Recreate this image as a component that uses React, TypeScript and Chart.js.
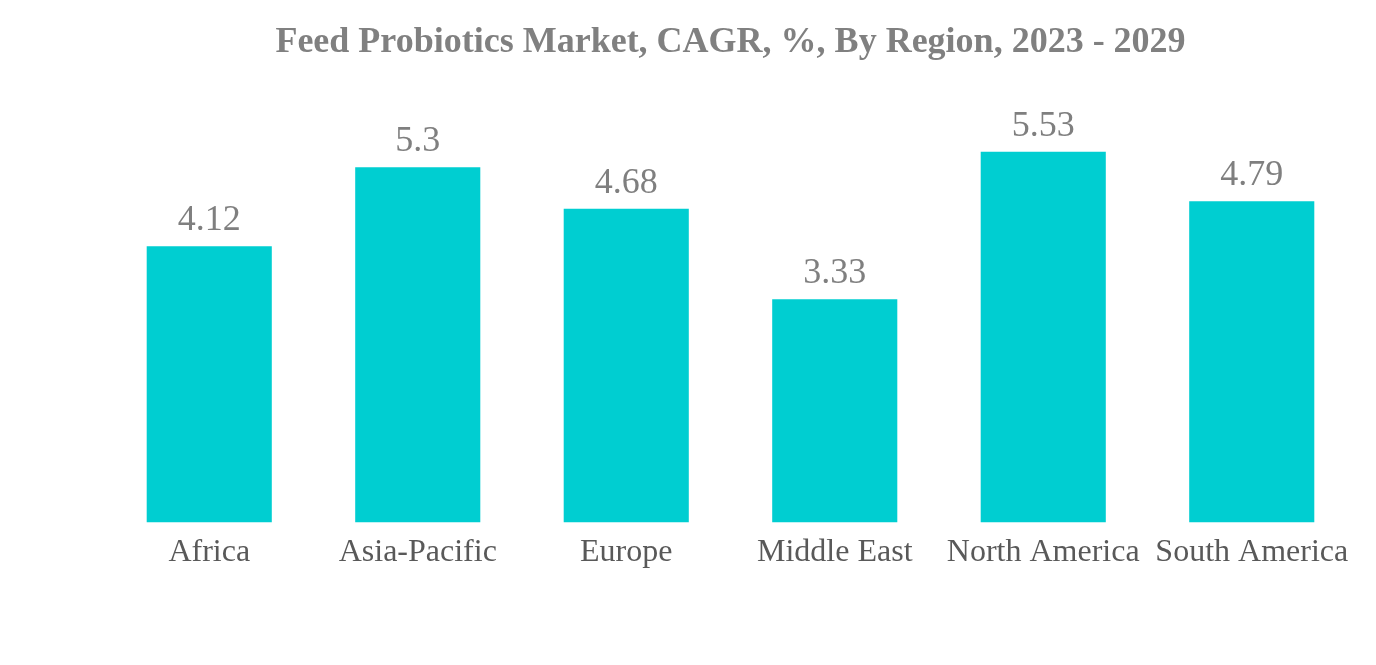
import React, { useEffect, useRef } from "react";
import { Chart, registerables } from "chart.js";

Chart.register(...registerables);

const categories = ["Africa", "Asia-Pacific", "Europe", "Middle East", "North America", "South America"];
const cagrValues = [4.12, 5.3, 4.68, 3.33, 5.53, 4.79];
const titleText = "Feed Probiotics Market, CAGR, %, By Region, 2023 - 2029";

const FONT = "'Liberation Serif', 'Times New Roman', serif";

const valueLabels = {
  id: "valueLabels",
  afterDatasetsDraw(chart: any) {
    const ctx = chart.ctx;
    const meta = chart.getDatasetMeta(0);
    ctx.save();
    ctx.font = `36px ${FONT}`;
    ctx.fillStyle = "#7f7f7f";
    ctx.textAlign = "center";
    ctx.textBaseline = "alphabetic";
    meta.data.forEach((bar: any, i: number) => {
      ctx.fillText(String(cagrValues[i]), bar.x, bar.y - 16);
    });
    ctx.restore();
  },
};

export default function App() {
  const ref = useRef<HTMLCanvasElement | null>(null);
  useEffect(() => {
    if (!ref.current) return;
    const chart = new Chart(ref.current, {
      type: "bar",
      data: {
        labels: categories,
        datasets: [
          {
            data: cagrValues,
            backgroundColor: "#00CED1",
            categoryPercentage: 0.6,
            barPercentage: 1,
          },
        ],
      },
      options: {
        animation: false,
        responsive: true,
        maintainAspectRatio: false,
        layout: { padding: { left: 105, right: 20, top: 0, bottom: 90 } },
        plugins: {
          legend: { display: false },
          tooltip: { enabled: false },
          title: {
            display: true,
            text: titleText,
            color: "#808080",
            font: { family: FONT, size: 36, weight: "bold" },
            padding: { top: 21, bottom: 56 },
          },
        },
        scales: {
          y: { display: false, min: 0, max: 6 },
          x: {
            grid: { display: false },
            border: { display: false },
            ticks: {
              color: "#595959",
              font: { family: FONT, size: 32 },
              padding: 3,
              maxRotation: 0,
              autoSkip: false,
            },
          },
        },
      },
      plugins: [valueLabels],
    });
    return () => chart.destroy();
  }, []);
  return (
    <div style={{ position: "fixed", left: 0, top: 0, width: 1376, height: 665, background: "#fff" }}>
      <canvas ref={ref} />
    </div>
  );
}
